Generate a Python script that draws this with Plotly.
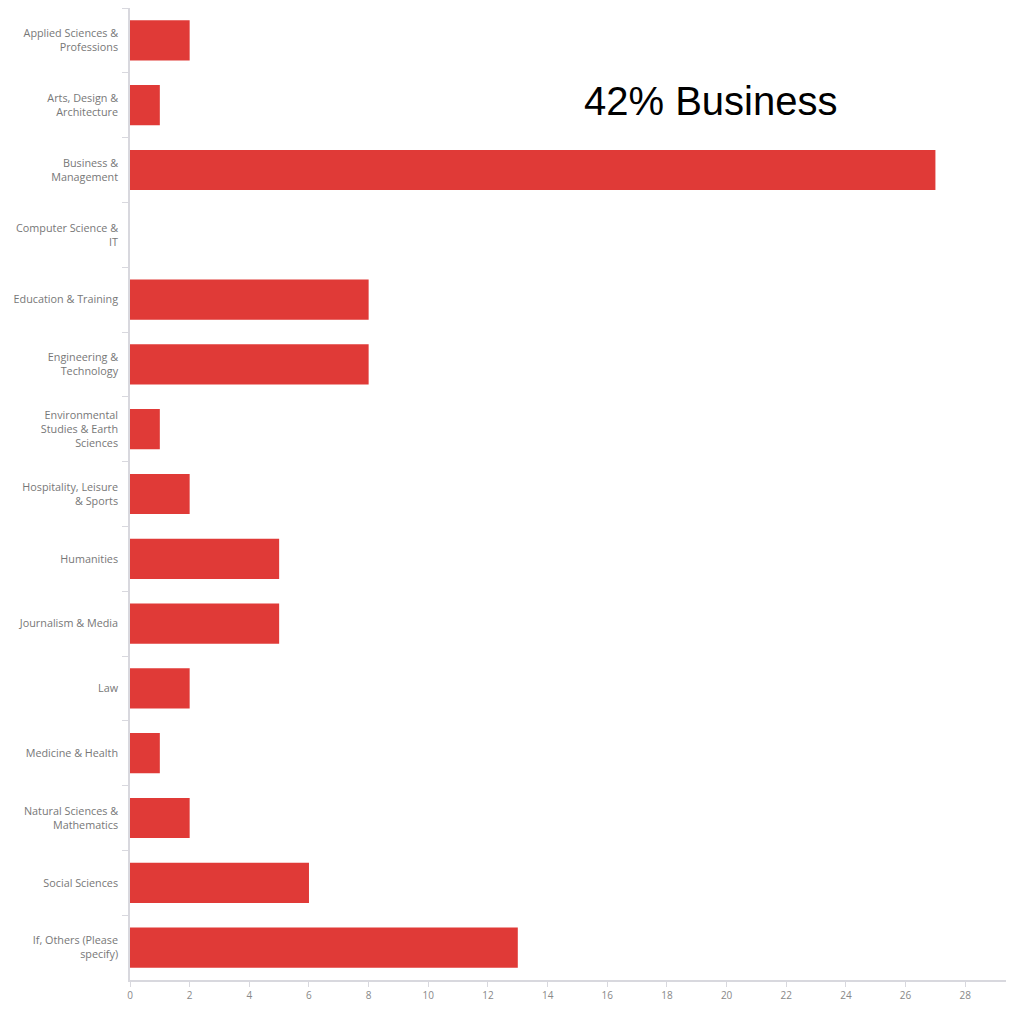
import plotly.graph_objects as go

categories = [
    "Applied Sciences &<br>Professions",
    "Arts, Design &<br>Architecture",
    "Business &<br>Management",
    "Computer Science &<br>IT",
    "Education & Training",
    "Engineering &<br>Technology",
    "Environmental<br>Studies & Earth<br>Sciences",
    "Hospitality, Leisure<br>& Sports",
    "Humanities",
    "Journalism & Media",
    "Law",
    "Medicine & Health",
    "Natural Sciences &<br>Mathematics",
    "Social Sciences",
    "If, Others (Please<br>specify)",
]
values = [2, 1, 27, 0, 8, 8, 1, 2, 5, 5, 2, 1, 2, 6, 13]
x_ticks = list(range(0, 30, 2))
annotation_text = "42% Business"

fig = go.Figure(go.Bar(
    x=values,
    y=categories,
    orientation="h",
    marker=dict(color="#E03A37", line=dict(width=0)),
))

fig.update_layout(
    width=1006,
    height=1001,
    margin=dict(l=122, r=4, t=0, b=29, autoexpand=False),
    plot_bgcolor="white",
    paper_bgcolor="white",
    bargap=0.38,
    showlegend=False,
    font=dict(family="Open Sans", color="#777777", size=10),
    annotations=[dict(
        text=annotation_text,
        xref="paper", yref="paper",
        x=0.66, y=0.904,
        xanchor="center", yanchor="middle",
        showarrow=False,
        font=dict(family="Liberation Sans", size=40, color="#000000"),
    )],
)

fig.update_xaxes(
    range=[0, 29.5],
    tickvals=x_ticks,
    showgrid=False,
    zeroline=False,
    showline=True,
    linecolor="#D8D8DE",
    linewidth=1.5,
    ticks="outside",
    ticklen=5,
    tickcolor="#D8D8DE",
    tickfont=dict(size=10, color="#888888"),
)

fig.update_yaxes(
    autorange="reversed",
    showgrid=False,
    zeroline=False,
    showline=True,
    linecolor="#D8D8DE",
    linewidth=1.5,
    ticks="outside",
    tickson="boundaries",
    ticklen=6,
    tickcolor="#D8D8DE",
    ticklabelstandoff=8,
    tickfont=dict(size=10.8, color="#777777"),
)

fig.write_html("out.html")
